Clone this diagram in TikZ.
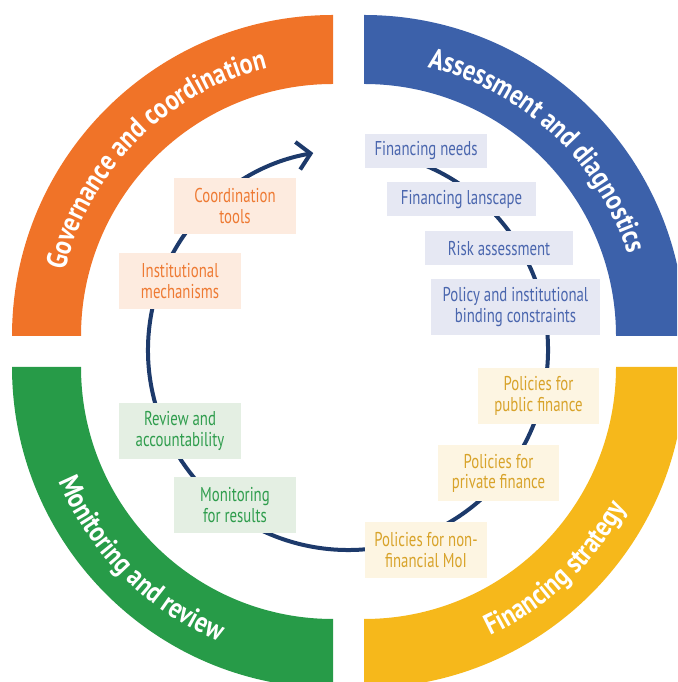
\documentclass[tikz,border=0pt]{standalone}
\usepackage{fontspec}
\usetikzlibrary{decorations.text,arrows.meta,calc}
\newfontfamily\boxfont[FakeStretch=0.74]{PT Sans}
\newfontfamily\ringfont[FakeStretch=0.83]{PT Sans}
\newcommand\ringsty{\ringfont\bfseries\fontsize{29}{30}\selectfont}
\definecolor{orng}{HTML}{F07328}
\definecolor{orngtxt}{HTML}{EE7A33}
\definecolor{orngfill}{HTML}{FDEBDF}
\definecolor{blu}{HTML}{3C61AA}
\definecolor{blutxt}{HTML}{4A66AE}
\definecolor{blufill}{HTML}{E6E8F3}
\definecolor{grn}{HTML}{279B48}
\definecolor{grntxt}{HTML}{2F9D4D}
\definecolor{grnfill}{HTML}{E4EFE3}
\definecolor{ylw}{HTML}{F6B81B}
\definecolor{ylwtxt}{HTML}{D8A32A}
\definecolor{ylwfill}{HTML}{FDF5E2}
\definecolor{navy}{HTML}{1D3A6B}
\begin{document}
\begin{tikzpicture}[x=1pt,y=1pt,
  ibox/.style={inner sep=0pt, align=center, font=\boxfont\fontsize{20}{20.5}\selectfont, minimum height=56pt, minimum width=122pt},
  obox/.style={ibox, fill=orngfill, text=orngtxt},
  bbox/.style={ibox, fill=blufill, text=blutxt, minimum height=34pt},
  gbox/.style={ibox, fill=grnfill, text=grntxt},
  ybox/.style={ibox, fill=ylwfill, text=ylwtxt},
  ringtext/.style={decorate, decoration={text along path, text={|\ringsty|#1}, text align=center, text color=white}},
  cyclearrow/.style={draw=navy, line width=4pt, -{Straight Barb[length=13pt,width=28pt]}}
]
\useasboundingbox (0,0) rectangle (677,682);
\clip (0,0) rectangle (677,682);

% ring segments
\begin{scope}[shift={(333,346)}]
  \fill[orng] (180:321) arc[start angle=180,end angle=90,radius=321pt] -- (90:252) arc[start angle=90,end angle=180,radius=252pt] -- cycle;
  \path[ringtext={Governance and coordination}] (180:276) arc[start angle=180,end angle=90,radius=276pt];
\end{scope}
\begin{scope}[shift={(364,346)}]
  \fill[blu] (90:321) arc[start angle=90,end angle=0,radius=321pt] -- (0:252) arc[start angle=0,end angle=90,radius=252pt] -- cycle;
  \path[ringtext={Assessment and diagnostics}] (92:276) arc[start angle=92,end angle=2,radius=276pt];
\end{scope}
\begin{scope}[shift={(333,315)}]
  \fill[grn] (180:321) arc[start angle=180,end angle=270,radius=321pt] -- (270:252) arc[start angle=270,end angle=180,radius=252pt] -- cycle;
  \path[ringtext={Monitoring and review}] (180:297) arc[start angle=180,end angle=270,radius=297pt];
\end{scope}
\begin{scope}[shift={(364,315)}]
  \fill[ylw] (270:321) arc[start angle=270,end angle=360,radius=321pt] -- (0:252) arc[start angle=0,end angle=-90,radius=252pt] -- cycle;
  \path[ringtext={Financing strategy}] (268.5:297) arc[start angle=268.5,end angle=358.5,radius=297pt];
\end{scope}

% cycle arrow
\coordinate (cc) at (348,332);
\coordinate (arrowstart) at ($(cc)+(80:200)$);
\draw[cyclearrow] (arrowstart) arc[start angle=80,end angle=-260,radius=200pt];

% boxes
\node[obox] (coord) at (235,476) {Coordination\\tools};
\node[obox] (inst) at (180,401) {Institutional\\mechanisms};
\node[bbox] (fneeds) at (426,531) {Financing needs};
\node[bbox, minimum width=149pt] (flands) at (461.5,482.5) {Financing lanscape};
\node[bbox, minimum width=148pt] (risk) at (499,433.5) {Risk assessment};
\node[bbox, minimum width=169pt, minimum height=56pt] (policy) at (515.5,375) {Policy and institutional\\binding constraints};
\node[ybox, minimum width=121pt] (pubfin) at (538.5,286) {Policies for\\public finance};
\node[ybox, minimum width=121pt] (privfin) at (498.5,208.5) {Policies for\\private finance};
\node[ybox] (nonfin) at (426,132) {Policies for non-\\financial MoI};
\node[gbox] (review) at (180,251) {Review and\\accountability};
\node[gbox] (monit) at (235,177) {Monitoring\\for results};
\end{tikzpicture}
\end{document}
